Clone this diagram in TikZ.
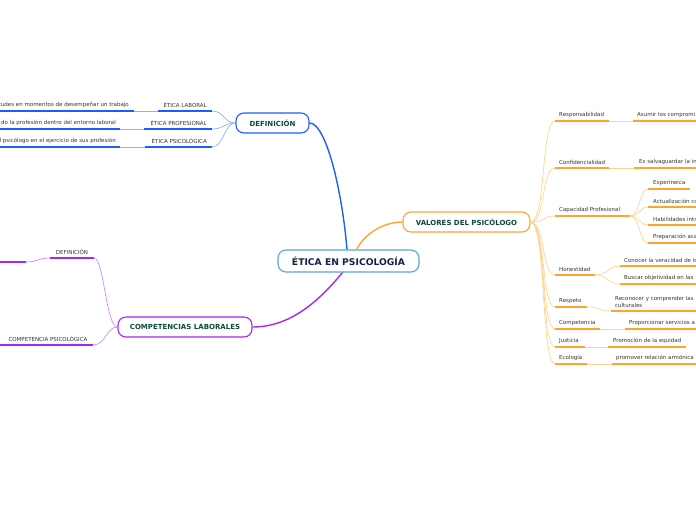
\documentclass[tikz,border=0pt]{standalone}
\usepackage{fontspec}
\setmainfont{DejaVu Sans}
\definecolor{bl}{HTML}{1F5CFF}
\definecolor{bllight}{HTML}{8FAEFF}
\definecolor{pu}{HTML}{A626F2}
\definecolor{pulight}{HTML}{D08CF8}
\definecolor{orc}{HTML}{FFA52E}
\definecolor{orlight}{HTML}{FFD48F}
\definecolor{cen}{HTML}{5AA5DC}
\definecolor{txt}{HTML}{333333}
\definecolor{grn}{HTML}{0E4A3B}
\definecolor{navy}{HTML}{15224A}
\begin{document}
\begin{tikzpicture}[x=1pt,y=-1pt,
  box/.style={draw, rounded corners=8pt, line width=1.1pt, fill=white, inner sep=0pt, align=center, font=\fontsize{7}{8}\selectfont\bfseries, text=grn},
  leaf/.style={inner sep=0pt, font=\fontsize{5.5}{7}\selectfont, text=txt},
  ul/.style={line width=1.5pt},
  con/.style={line width=0.7pt},
  main/.style={line width=1.4pt}
]
\useasboundingbox (0,0) rectangle (696,520);

% main nodes
\node[box, draw=cen, text=navy, minimum width=141pt, minimum height=22pt, font=\fontsize{9.2}{10}\selectfont\bfseries] (root) at (348.5,261) {ÉTICA EN PSICOLOGÍA};
\node[box, draw=bl, minimum width=73pt, minimum height=20pt] (def) at (272.5,123) {DEFINICIÓN};
\node[box, draw=pu, minimum width=134pt, minimum height=20pt] (comp) at (185,327) {COMPETENCIAS LABORALES};
\node[box, draw=orc, minimum width=127pt, minimum height=20pt] (val) at (466.5,222) {VALORES DEL PSICÓLOGO};

% main connectors
\draw[main, bl] (def.east) .. controls (326,123) and (342,190) .. ([xshift=-1.5pt]root.north);
\draw[main, pu] ([xshift=-6pt]root.south) .. controls (318,302) and (290,327) .. (comp.east);
\draw[main, orc] ([xshift=8pt]root.north) .. controls (366,232) and (385,222) .. (val.west);

% ---------- DEFINICION branch ----------
\foreach \n/\y/\xa/\xl/\lab/\xt/\txt in {
  1/111/158/134/ÉTICA LABORAL/129/tudes en momentos de desempeñar un trabajo,
  2/129/144/120/ÉTICA PROFESIONAL/116/do la profesión dentro del entorno laboral,
  3/147/145/120/ÉTICA PSICOLÓGICA/116/l psicólogo en el ejercicio de sus profesión}{
  \coordinate (dl\n a) at (\xa,\y);
  \coordinate (dl\n b) at (212,\y);
  \coordinate (dt\n a) at (0,\y);
  \coordinate (dt\n b) at (\xl,\y);
  \node[leaf, anchor=east] (dl\n) at (207,\y-6) {\lab};
  \node[leaf, anchor=east] (dt\n) at (\xt,\y-6) {\txt};
  \draw[con, bllight] (def.west) .. controls (224,123) and (224,\y) .. (dl\n b);
  \draw[ul, bl] (dl\n a) -- (dl\n b);
  \draw[con, bllight] (dl\n a) -- (dt\n b);
  \draw[ul, bl] (dt\n a) -- (dt\n b);
}

% ---------- COMPETENCIAS branch ----------
\coordinate (cda) at (50,258);
\coordinate (cdb) at (94,258);
\coordinate (cxa) at (0,262);
\coordinate (cxb) at (26,262);
\node[leaf] (cd) at (72,252) {DEFINICIÓN};
\draw[con, pulight] (comp.west) .. controls (106,327) and (104,258) .. (cdb);
\draw[ul, pu] (cda) -- (cdb);
\draw[con, pulight] (cda) .. controls (38,258) and (38,262) .. (cxb);
\draw[ul, pu] (cxa) -- (cxb);

\coordinate (cpa) at (0,345);
\coordinate (cpb) at (93,345);
\node[leaf] (cp) at (48,339) {COMPETENCIA PSICOLÓGICA};
\draw[con, pulight] (comp.west) .. controls (106,327) and (106,345) .. (cpb);
\draw[ul, pu] (cpa) -- (cpb);

% ---------- VALORES branch ----------
\foreach \n/\y/\xe/\lab in {
  1/121/609/Responsabilidad,
  2/168/609/Confidencialidad,
  3/216/630/Capacidad Profesional,
  4/275/595/Honestidad,
  5/307/587/Respeto,
  6/329/600/Competencia,
  7/347/585/Justicia,
  8/364/587/Ecología}{
  \coordinate (v\n a) at (555,\y);
  \coordinate (v\n b) at (\xe,\y);
  \node[leaf, anchor=west] (v\n) at (559,\y-6) {\lab};
  \draw[con, orlight] (val.east) .. controls (546,222) and (541,\y) .. (v\n a);
  \draw[ul, orc] (v\n a) -- (v\n b);
}

% simple one-child values
\foreach \n/\y/\xs/\xe/\xt/\txt in {
  1/121/633/696/637/Asumir los compromi,
  2/168/634/696/639/Es salvaguardar la in,
  6/329/625/696/629/Proporcionar servicios a,
  7/347/608/686/613/Promoción de la equidad,
  8/364/612/696/616/promover relación armónica}{
  \coordinate (w\n a) at (\xs,\y);
  \coordinate (w\n b) at (\xe,\y);
  \node[leaf, anchor=west] (w\n) at (\xt,\y-6) {\txt};
  \draw[con, orlight] (v\n b) -- (w\n a);
  \draw[ul, orc] (w\n a) -- (w\n b);
}

% Capacidad Profesional children
\foreach \n/\y/\xe/\txt in {
  1/189/690/Experineica,
  2/207/696/Actualización co,
  3/225/696/Habilidades intr,
  4/243/696/Preparación aca}{
  \coordinate (c\n a) at (648,\y);
  \coordinate (c\n b) at (\xe,\y);
  \node[leaf, anchor=west] (c\n) at (653,\y-6) {\txt};
  \draw[con, orlight] (v3b) .. controls (640,216) and (639,\y) .. (c\n a);
  \draw[ul, orc] (c\n a) -- (c\n b);
}

% Honestidad children
\foreach \n/\y/\txt in {
  1/266/Conocer la veracidad de lo,
  2/284/Buscar objetividad en las}{
  \coordinate (h\n a) at (620,\y);
  \coordinate (h\n b) at (696,\y);
  \node[leaf, anchor=west] (h\n) at (624,\y-6) {\txt};
  \draw[con, orlight] (v4b) .. controls (609,275) and (607,\y) .. (h\n a);
  \draw[ul, orc] (h\n a) -- (h\n b);
}

% Respeto child
\coordinate (r1a) at (611,311);
\coordinate (r1b) at (696,311);
\node[leaf, anchor=west, align=left] (r1) at (615,301.5) {Reconocer y comprender las\\culturales};
\draw[con, orlight] (v5b) .. controls (600,307) and (598,311) .. (r1a);
\draw[ul, orc] (r1a) -- (r1b);

\end{tikzpicture}
\end{document}
